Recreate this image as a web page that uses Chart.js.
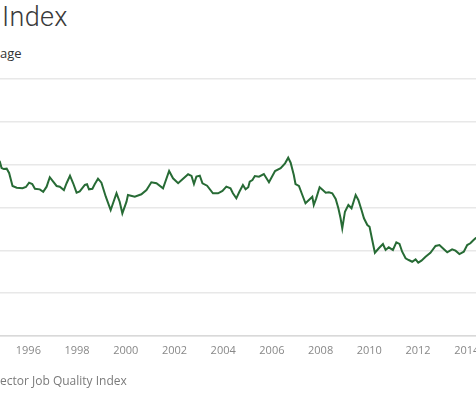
<!DOCTYPE html>
<html lang="en">

<head>
    <meta charset="UTF-8">
    <title>Job Quality Index</title>
    <script src="https://cdn.jsdelivr.net/npm/chart.js"></script>
    <style>
        html, body { margin: 0; padding: 0; background: #fff; overflow: hidden; width: 476px; height: 397px; }
        body { position: relative; font-family: 'Open Sans', sans-serif; }
        .titulo { position: absolute; left: 2px; top: 1px; font-family: 'Roboto', sans-serif; font-weight: 300; font-size: 27px; color: #3a3a3a; letter-spacing: 0.3px; }
        .sub { position: absolute; left: 0; top: 44px; font-size: 13px; color: #333; }
        .fonte { position: absolute; left: 0; top: 372px; font-size: 12px; color: #7a7a7a; }
        .grafico { position: absolute; left: -90px; top: 74px; }
    </style>
</head>

<body>
    <div class="titulo">Index</div>
    <div class="sub">age</div>
    <section class="grafico">
        <canvas id="myNewChart" width="626" height="300"></canvas>
    </section>
    <div class="fonte">ector Job Quality Index</div>

<script>
    // datas (ano decimal) e valores do indice
    const dates = [
        1994.71, 1994.83, 1994.90, 1994.99, 1995.11, 1995.21, 1995.35, 1995.52, 1995.76, 1995.90,
        1996.03, 1996.16, 1996.27, 1996.47, 1996.61, 1996.75, 1996.88, 1997.02, 1997.16, 1997.29,
        1997.46, 1997.57, 1997.71, 1997.84, 1997.98, 1998.11, 1998.32, 1998.41, 1998.49, 1998.63,
        1998.73, 1998.86, 1999.00, 1999.18, 1999.38, 1999.62, 1999.75, 1999.86, 2000.03, 2000.09,
        2000.37, 2000.64, 2000.85, 2001.05, 2001.26, 2001.53, 2001.78, 2001.94, 2002.15, 2002.33,
        2002.56, 2002.70, 2002.80, 2002.90, 2003.04, 2003.15, 2003.34, 2003.58, 2003.79, 2003.97,
        2004.13, 2004.30, 2004.40, 2004.54, 2004.66, 2004.81, 2004.92, 2005.03, 2005.09, 2005.20,
        2005.30, 2005.47, 2005.67, 2005.88, 2006.13, 2006.36, 2006.54, 2006.67, 2006.77, 2006.90,
        2006.97, 2007.11, 2007.25, 2007.38, 2007.52, 2007.66, 2007.72, 2007.82, 2007.96, 2008.09,
        2008.21, 2008.34, 2008.48, 2008.62, 2008.73, 2008.82, 2008.89, 2009.00, 2009.14, 2009.27,
        2009.44, 2009.55, 2009.68, 2009.78, 2009.92, 2010.01, 2010.12, 2010.23, 2010.39, 2010.56,
        2010.67, 2010.80, 2010.97, 2011.11, 2011.24, 2011.35, 2011.49, 2011.62, 2011.76, 2011.90,
        2012.01, 2012.14, 2012.31, 2012.51, 2012.72, 2012.88, 2013.02, 2013.20, 2013.40, 2013.54,
        2013.70, 2013.88, 2014.02, 2014.15, 2014.25, 2014.36, 2014.52
    ];
    const jqi = [
        90.78, 90.35, 89.61, 89.49, 89.53, 89.03, 87.51, 87.31, 87.24, 87.39,
        87.90, 87.74, 87.19, 87.12, 86.84, 87.43, 88.53, 88.01, 87.51, 87.43,
        87.04, 87.83, 88.71, 87.83, 86.73, 86.89, 87.63, 87.71, 87.12, 87.19,
        87.74, 88.36, 87.90, 86.26, 84.71, 86.66, 85.68, 84.32, 85.68, 86.46,
        86.26, 86.54, 87.04, 87.94, 87.83, 87.24, 89.26, 88.41, 87.83, 88.29,
        88.88, 88.68, 87.74, 88.60, 88.71, 87.83, 87.54, 86.66, 86.66, 86.93,
        87.43, 87.24, 86.66, 86.07, 86.81, 87.63, 87.12, 87.36, 88.01, 88.21,
        88.68, 88.60, 88.91, 87.94, 89.26, 89.58, 90.16, 90.81, 90.23, 88.79,
        87.74, 87.51, 86.46, 85.49, 85.88, 86.26, 85.29, 86.07, 87.36, 87.04,
        86.73, 86.77, 86.66, 85.99, 84.91, 83.74, 82.57, 84.51, 85.29, 84.91,
        86.46, 85.88, 84.71, 83.74, 82.96, 82.76, 81.21, 79.72, 80.24, 80.74,
        80.04, 80.35, 80.04, 80.94, 80.74, 79.84, 79.07, 78.87, 78.67, 78.95,
        78.56, 78.79, 79.26, 79.72, 80.51, 80.62, 80.24, 79.77, 80.12, 79.96,
        79.57, 79.84, 80.62, 80.82, 81.12, 81.40, 81.67
    ];
    // limites dos eixos
    const anoMin = 1991.14;
    const anoMax = 2016.82;
    const yMin = 70;
    const yMax = 100;
    const yPasso = 5;

    let pontos = [];
    for (var i = 0; i < dates.length; i++) {
        pontos.push({ x: dates[i], y: jqi[i] });
    }

    const config = {
        type: 'line',
        data: {
            datasets: [{
                label: 'Job Quality Index',
                data: pontos,
                fill: false,
                borderColor: '#276b35',
                borderWidth: 2,
                pointRadius: 0,
                tension: 0
            }]
        },
        options: {
            responsive: false,
            animation: false,
            layout: { padding: { top: 5, left: 0, right: 0, bottom: 0 } },
            plugins: { legend: { display: false }, tooltip: { enabled: false } },
            scales: {
                x: {
                    type: 'linear',
                    min: anoMin,
                    max: anoMax,
                    grid: { display: false, drawTicks: false },
                    border: { display: true, color: '#d9d9d9', width: 1.5 },
                    ticks: {
                        stepSize: 2,
                        includeBounds: false,
                        autoSkip: false,
                        maxRotation: 0,
                        padding: 8,
                        color: '#888',
                        font: { family: 'Open Sans', size: 11 },
                        callback: function (v) { return String(v); }
                    },
                    afterFit: function (s) { s.height = 38; }
                },
                y: {
                    min: yMin,
                    max: yMax,
                    grid: { color: '#e8e8e8', lineWidth: 1.5, drawTicks: false },
                    border: { display: false },
                    ticks: { display: false, stepSize: yPasso },
                    afterFit: function (s) { s.width = 0; }
                }
            }
        }
    };

    let chartClass = new Chart(document.getElementById('myNewChart'), config);
</script>
</body>

</html>
